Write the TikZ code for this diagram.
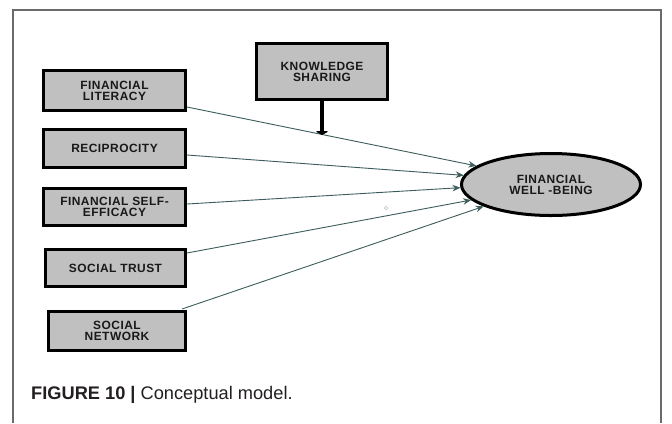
\documentclass[tikz,border=0pt]{standalone}
\usepackage{fontspec}
\setmainfont{Liberation Sans}
\newfontfamily\boxfont[LetterSpace=4]{Liberation Sans}
\usetikzlibrary{arrows.meta,shapes.geometric,calc}
\definecolor{boxgray}{HTML}{C0C0C0}
\definecolor{framegray}{HTML}{6A6A6A}
\definecolor{linkcol}{HTML}{3D5C5C}
\definecolor{captxt}{HTML}{231F20}
\tikzset{
  varbox/.style={draw=black, line width=3bp, fill=boxgray, inner sep=0pt,
    align=center, text=black!90,
    font=\boxfont\bfseries\fontsize{12}{11.2}\selectfont},
  outcome/.style={ellipse, draw=black, line width=3bp, fill=boxgray, inner sep=0pt,
    align=center, text=black!90, minimum width=179bp, minimum height=62bp,
    font=\boxfont\bfseries\fontsize{12}{11.2}\selectfont},
  link/.style={draw=linkcol, line width=0.9bp, -{Stealth[length=8bp,width=6.5bp]}},
  modlink/.style={draw=black, line width=4bp, -{Triangle[length=4bp,width=14bp,round]}},
}
\begin{document}
\begin{tikzpicture}[x=1bp,y=-1bp]
\useasboundingbox (0,0) rectangle (672,423);
\fill[white] (0,0) rectangle (672,423);
\draw[framegray, line width=1.5bp] (13,423) -- (13,10) -- (661,10) -- (661,423);

\node[varbox, minimum width=131bp, minimum height=56bp] (ks) at (322,71.5) {KNOWLEDGE\\SHARING};
\node[varbox, minimum width=142bp, minimum height=40bp] (fl) at (114.5,90.5) {FINANCIAL\\LITERACY};
\node[varbox, minimum width=142bp, minimum height=38bp] (rc) at (114.5,148.5) {RECIPROCITY};
\node[varbox, minimum width=142bp, minimum height=37bp] (fse) at (114.5,207) {FINANCIAL SELF-\\EFFICACY};
\node[varbox, minimum width=140bp, minimum height=37bp] (st) at (115.5,268) {SOCIAL TRUST};
\node[varbox, minimum width=137bp, minimum height=39bp] (sn) at (117,331) {SOCIAL\\NETWORK};
\node[outcome] (wb) at (551,184.5) {FINANCIAL\\WELL -BEING};

\coordinate (flout) at ([yshift=-16.5bp]fl.east);
\draw[link] (flout) -- (wb.166.5);
\draw[link] ([yshift=-6.5bp]rc.east) -- (wb.174.7);
\draw[link] ([yshift=3bp]fse.east) -- (wb.182.8);
\draw[link] ([yshift=15bp]st.east) -- (wb.191);
\draw[link] ([xshift=-5bp,yshift=1bp]sn.north east) -- (wb.198.8);

\coordinate (modpt) at ($(flout)!0.475!(wb.166.5)$);
\draw[modlink] (ks.south) -- (ks.south |- modpt);

\draw[black!25, line width=0.6bp] (386,208) circle (1.8bp);

\node[anchor=base west, inner sep=0pt, text=captxt, font=\fontsize{18.3}{20}\selectfont] (cap) at (31,399) {\textbf{FIGURE 10 |} Conceptual model.};
\end{tikzpicture}
\end{document}
